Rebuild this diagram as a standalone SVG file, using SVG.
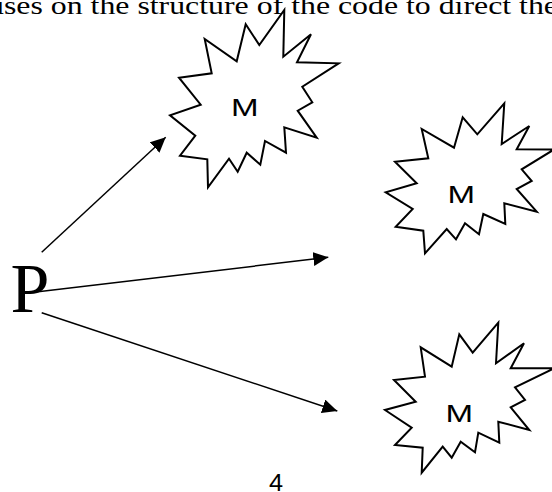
<svg xmlns="http://www.w3.org/2000/svg" width="552" height="492" viewBox="0 0 552 492">
<style>
.burst{fill:#fff;stroke:#000;stroke-width:2;stroke-linejoin:miter}
.conn{stroke:#000;stroke-width:1.5;fill:none;marker-end:url(#ah)}
.m{font-family:"Liberation Sans",Arial,sans-serif;font-size:24.5px;fill:#000;text-anchor:middle}
.hdr{font-family:"Liberation Serif","Times New Roman",serif;font-size:25px;fill:#000}
</style>
<defs>
<marker id="ah" markerUnits="userSpaceOnUse" markerWidth="15" markerHeight="14" refX="15" refY="7" orient="auto">
<path d="M0,0 L15,7 L0,14 z" fill="#000"/>
</marker>
</defs>
<rect width="552" height="492" fill="#fff"/>
<text class="hdr" x="-12" y="14" textLength="570" lengthAdjust="spacingAndGlyphs">uses on the structure of the code to direct the</text>
<g id="m1">
<polygon class="burst" points="284.3,10 283.3,56.7 311,34.3 297,62.3 338.7,63.3 302.3,86.7 312.3,102.3 297.7,110.7 316.7,137.7 284.3,127.3 286,152.7 265,141 260.3,164.7 246.7,152.7 237.7,171.7 229,158.7 208,187.3 207.3,159.3 180,155.7 195.3,135.7 170,115.3 200.7,104.7 179,77.7 211.7,73.3 204.7,39 236.7,61.3 245.7,24.3 259.3,45"/>
<text class="m" transform="translate(244.7,116) scale(1.35,1)">M</text>
</g>
<g id="m2">
<polygon class="burst" points="504.3,103.3 501.7,144 529.3,126 516.7,149.3 554,149.5 521.7,169.3 531.7,181 516.7,189 536.7,211.7 504.3,203.3 505.3,224 483.3,214 479,234.3 465,223.3 456,239.3 446.7,229 425,253.3 423.3,230.7 395.7,226.7 412.7,209 385.7,192.3 416.7,183.3 395,161.7 428.3,158.3 421.7,129 454,147.7 462.7,117.3 477.3,134.3"/>
<text class="m" transform="translate(461.3,202.7) scale(1.35,1)">M</text>
</g>
<g id="m3">
<polygon class="burst" points="498.3,322.7 496,363.3 524,343.3 510.7,368.3 554,368.3 515,387.3 525,400 510.7,407.3 529.3,430 498.3,421.7 499.3,442.7 478.3,432.7 475,452.3 460.7,441.7 451.7,457.7 442.7,446.7 421.7,472.7 422.7,447.7 395,445 411.7,427.7 385,410 415.7,401.7 394,380 425,376.7 420.7,347.3 451.7,366.7 459.3,334.3 472.7,352.7"/>
<text class="m" transform="translate(459.2,421.7) scale(1.35,1)">M</text>
</g>
<g id="p">
<text x="10.5" y="311.7" font-family="Liberation Serif, Times New Roman, serif" font-size="70" fill="#000">P</text>
</g>
<g id="connectors">
<line class="conn" x1="41.7" y1="252.3" x2="165.7" y2="137.3"/>
<line class="conn" x1="23.3" y1="293.5" x2="328.3" y2="257.3"/>
<line class="conn" x1="41.7" y1="312.7" x2="337.3" y2="411"/>
</g>
<text transform="translate(276,491) scale(1.1,1)" font-family="Liberation Sans, Arial, sans-serif" font-size="23" fill="#000" text-anchor="middle">4</text>
</svg>
